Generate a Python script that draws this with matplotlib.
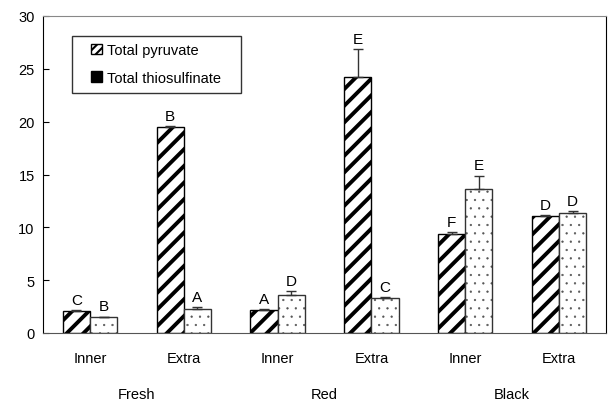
import matplotlib.pyplot as plt
from matplotlib.patches import Patch, Rectangle

plt.rcParams['font.family'] = ['Liberation Sans', 'DejaVu Sans']

# data
sub_labels = ["Inner", "Extra", "Inner", "Extra", "Inner", "Extra"]
group_labels = ["Fresh", "Red", "Black"]
pyruvate = [2.1, 19.5, 2.2, 24.2, 9.4, 11.1]
pyruvate_err = [0.05, 0.05, 0.1, 2.7, 0.15, 0.05]
pyruvate_letters = ["C", "B", "A", "E", "F", "D"]
thiosulfinate = [1.5, 2.3, 3.6, 3.3, 13.6, 11.4]
thiosulfinate_err = [0.05, 0.15, 0.4, 0.1, 1.3, 0.1]
thiosulfinate_letters = ["B", "A", "D", "C", "E", "D"]

fig = plt.figure(figsize=(6.09, 4.02), dpi=100)
ax = fig.add_axes([43 / 609, 68 / 402, 563 / 609, 317 / 402])

x = list(range(len(sub_labels)))
w = 0.29
x1 = [i - w / 2 for i in x]
x2 = [i + w / 2 for i in x]

plt.rcParams['hatch.linewidth'] = 2.8
ax.bar(x1, pyruvate, w, color="white", edgecolor="black", hatch="//", linewidth=1.0, zorder=2)
plt.rcParams['hatch.linewidth'] = 0.4
ax.bar(x2, thiosulfinate, w, color="white", edgecolor="#555555", hatch="..", linewidth=0, zorder=2)
ax.bar(x2, thiosulfinate, w, color="none", edgecolor="#333333", linewidth=1.0, zorder=3)

ax.errorbar(x1, pyruvate, yerr=[[0] * 6, pyruvate_err], fmt="none", ecolor="#333333",
            elinewidth=1, capsize=3.5, capthick=1, zorder=4)
ax.errorbar(x2, thiosulfinate, yerr=[[0] * 6, thiosulfinate_err], fmt="none", ecolor="#333333",
            elinewidth=1, capsize=3.5, capthick=1, zorder=4)

for xi, v, e, s in zip(x1, pyruvate, pyruvate_err, pyruvate_letters):
    ax.text(xi, v + e + 0.3, s, ha="center", va="bottom", fontsize=11)
for xi, v, e, s in zip(x2, thiosulfinate, thiosulfinate_err, thiosulfinate_letters):
    ax.text(xi, v + e + 0.3, s, ha="center", va="bottom", fontsize=11)

ax.set_xlim(-0.5, 5.5)
ax.set_ylim(0, 30)
ax.set_yticks([0, 5, 10, 15, 20, 25, 30])
ax.tick_params(axis="y", direction="in", length=4, labelsize=10.5, pad=6)
ax.set_xticks(x)
ax.set_xticklabels(sub_labels, fontsize=10.5)
ax.tick_params(axis="x", length=0, pad=13)

for i, g in enumerate(group_labels):
    ax.text(2 * i + 0.5, -5.8, g, ha="center", va="center", fontsize=10.5)

ax.spines["top"].set_color("#888888")
ax.spines["bottom"].set_color("#555555")
ax.spines["left"].set_color("black")
ax.spines["right"].set_color("black")

# legend box drawn separately so its padding can match the reference
ax.add_patch(Rectangle((72 / 609, 308 / 402), 169 / 609, 57 / 402, transform=fig.transFigure,
                       facecolor="white", edgecolor="#333333", linewidth=1.0, zorder=5))
plt.rcParams['hatch.linewidth'] = 1.5
handles = [Patch(facecolor="white", edgecolor="black", hatch="////", linewidth=1.0),
           Patch(facecolor="black", edgecolor="black")]
leg = ax.legend(handles, ["Total pyruvate", "Total thiosulfinate"], loc="upper left",
                bbox_to_anchor=(91 / 609, 1 - 44 / 402), bbox_transform=fig.transFigure,
                fontsize=10.5, frameon=False, handlelength=0.75, handleheight=0.75,
                handletextpad=0.35, borderpad=0, labelspacing=0.95, borderaxespad=0)
leg.set_zorder(6)

fig.savefig("out.png", dpi=100)
